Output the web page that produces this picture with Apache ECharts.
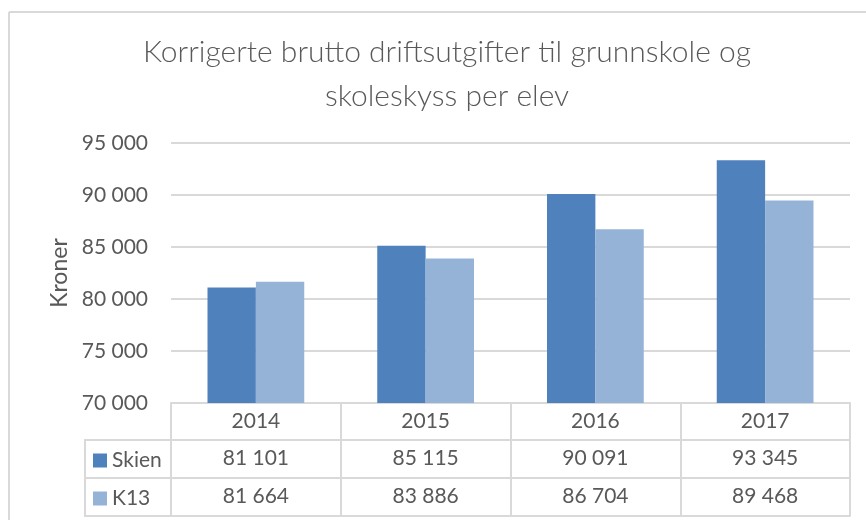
<!DOCTYPE html>
<html>
<head>
<meta charset="utf-8">
<script src="https://cdn.jsdelivr.net/npm/echarts@6/dist/echarts.min.js"></script>
<style>
    html, body { margin: 0; padding: 0; background: #fff; }
    #chart { width: 866px; height: 520px; }
</style>
</head>
<body>
<div id="chart"></div>
<script>
var years = ['2014', '2015', '2016', '2017'];
var skien = [81101, 85115, 90091, 93345];
var k13 = [81664, 83886, 86704, 89468];
var seriesNames = ['Skien', 'K13'];
var colors = ['#4f81bd', '#95b3d7'];

var textColor = '#595959';
var lineColor = '#d9d9d9';
var font = 'Lato';

// tall med mellomrom som tusenskille
function fmt(v) {
    return String(v).replace(/\B(?=(\d{3})+(?!\d))/g, ' ');
}

// tabellrader under diagrammet
function tableAxis(labels, offset, showTicks) {
    return {
        type: 'category',
        position: 'bottom',
        gridIndex: 0,
        offset: offset,
        data: labels,
        axisLine: { show: true, lineStyle: { color: lineColor, width: 2 } },
        axisTick: { show: showTicks, length: 38, interval: 0, lineStyle: { color: lineColor, width: 2 } },
        axisLabel: { show: showTicks, interval: 0, margin: 8, color: textColor, fontSize: 21, fontFamily: font },
        splitLine: { show: false }
    };
}

var myChart = echarts.init(document.getElementById('chart'));

var option = {
    backgroundColor: '#fff',
    animation: false,
    title: {
        text: 'Korrigerte brutto driftsutgifter til grunnskole og\nskoleskyss per elev',
        left: 442,
        top: 25,
        textAlign: 'center',
        textStyle: { color: textColor, fontSize: 30, fontWeight: 300, fontFamily: font, lineHeight: 44 }
    },
    legend: {
        data: seriesNames,
        orient: 'vertical',
        left: 93,
        top: 450,
        padding: 0,
        itemWidth: 14,
        itemHeight: 14,
        itemGap: 17,
        icon: 'rect',
        textStyle: { color: textColor, fontSize: 21, fontFamily: font }
    },
    grid: { left: 171, right: 16, top: 143, bottom: 117 },
    xAxis: [
        tableAxis(years, 0, true),
        tableAxis(skien.map(fmt), 37, true),
        tableAxis(k13.map(fmt), 75, true),
        tableAxis(years.map(function () { return ''; }), 113, false)
    ],
    yAxis: {
        type: 'value',
        min: 70000,
        max: 95000,
        interval: 5000,
        name: 'Kroner',
        nameLocation: 'middle',
        nameGap: 100,
        nameTextStyle: { color: textColor, fontSize: 23, fontFamily: font },
        axisLine: { show: false },
        axisTick: { show: false },
        axisLabel: { margin: 23, color: textColor, fontSize: 21, fontFamily: font, formatter: fmt },
        splitLine: { lineStyle: { color: lineColor, width: 2 } }
    },
    series: [
        {
            name: seriesNames[0],
            type: 'bar',
            xAxisIndex: 0,
            data: skien,
            barGap: '0%',
            barCategoryGap: '43%',
            itemStyle: { color: colors[0] }
        },
        {
            name: seriesNames[1],
            type: 'bar',
            xAxisIndex: 0,
            data: k13,
            itemStyle: { color: colors[1] }
        }
    ],
    graphic: [
        { type: 'line', shape: { x1: 9, y1: 12, x2: 866, y2: 12 }, style: { stroke: lineColor, lineWidth: 2 } },
        { type: 'line', shape: { x1: 9, y1: 12, x2: 9, y2: 520 }, style: { stroke: lineColor, lineWidth: 2 } },
        { type: 'line', shape: { x1: 85, y1: 440, x2: 171, y2: 440 }, style: { stroke: lineColor, lineWidth: 2 } },
        { type: 'line', shape: { x1: 85, y1: 478, x2: 171, y2: 478 }, style: { stroke: lineColor, lineWidth: 2 } },
        { type: 'line', shape: { x1: 85, y1: 516, x2: 171, y2: 516 }, style: { stroke: lineColor, lineWidth: 2 } },
        { type: 'line', shape: { x1: 85, y1: 439, x2: 85, y2: 517 }, style: { stroke: lineColor, lineWidth: 2 } }
    ]
};

myChart.setOption(option);
</script>
</body>
</html>
